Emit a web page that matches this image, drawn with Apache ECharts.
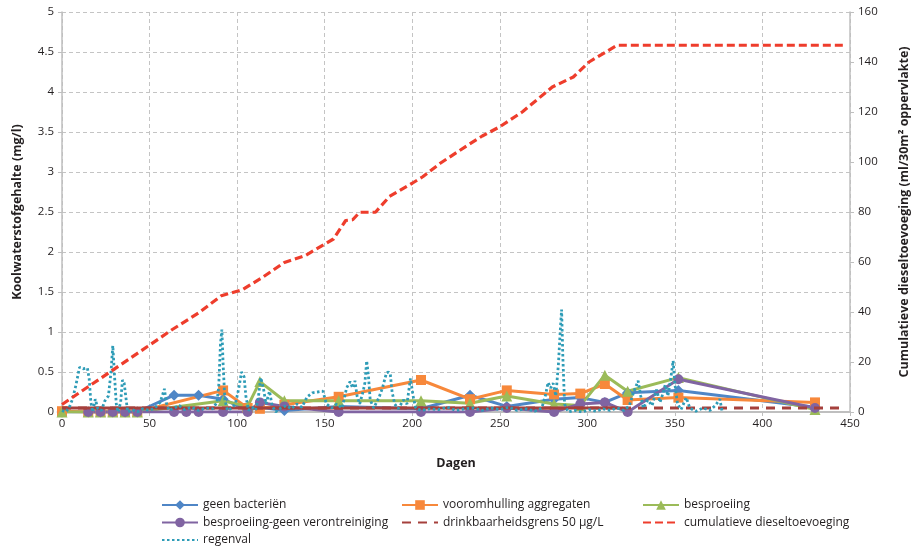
<!DOCTYPE html>
<html>
<head>
<meta charset="utf-8">
<script src="https://cdn.jsdelivr.net/npm/echarts@6/dist/echarts.min.js"></script>
<style>html,body{margin:0;padding:0;background:#fff}#c{width:924px;height:549px}</style>
</head>
<body>
<div id="c"></div>
<script>
// sampling days (Dagen)
var sampleDays = [0, 15, 22, 29, 36, 43, 64, 71, 78, 92, 106, 113, 127, 158, 205, 233, 254, 281, 296, 310, 323, 352, 430];
var geenBacterien = [0, 0, 0, 0, 0, 0, 0.21, null, 0.21, 0.16, 0.02, 0.06, 0.02, 0.07, 0.04, 0.21, 0.07, 0.16, 0.18, 0.12, 0.24, 0.27, 0.06];
var vooromhulling = [0.01, 0, 0, 0, 0, 0, null, null, null, 0.27, 0.05, 0.04, 0.09, 0.19, 0.40, 0.16, 0.27, 0.22, 0.23, 0.35, 0.15, 0.18, 0.12];
var besproeiing = [0, 0, 0, 0, 0, 0, null, null, null, 0.14, 0.07, 0.38, 0.14, 0.14, 0.14, 0.11, 0.20, 0.10, 0.08, 0.46, 0.26, 0.43, 0.03];
var besproeiingGeen = [null, 0, 0, 0, 0, 0, 0, 0, 0, 0, 0, 0.12, 0.07, 0, 0, 0, 0.05, 0, 0.10, 0.12, 0, 0.41, 0.05];

// drinking water limit 0.05 mg/l
var limitDays = [0, 446];
var limitValues = [0.05, 0.05];
var limitDenseDays = [0, 320];

// cumulative diesel addition (right axis)
var cumDays = [0, 28, 49, 63, 78, 91, 103, 114, 127, 139, 155, 162, 166, 170, 179, 187, 200, 206, 216, 231, 240, 250, 263, 280, 292, 301, 317, 446];
var cumValues = [3, 16.3, 26.3, 33, 39.6, 46.5, 48.9, 53.6, 59.8, 62.6, 69.2, 76.6, 76.9, 79.9, 79.9, 86.2, 91.5, 94.1, 99.5, 106.4, 110.4, 114.1, 120.1, 130, 134, 140, 146.7, 146.7];

// rainfall (regenval)
var rainDays = [0, 2, 4, 6, 8, 10, 12, 14.5, 15.5, 16.5, 17.5, 19, 20.5, 22.5, 24.5, 26.5, 28, 29, 30, 31, 32, 33.5, 34.5, 35.5, 36.5, 37.5, 40, 43, 46, 50, 53, 56, 57.5, 58.5, 59.5, 61, 64, 67, 70, 74, 78, 82, 86, 88.5, 89.5, 90.5, 91.3, 92, 93, 94.5, 97, 99, 101, 102.5, 104, 105, 106.5, 108.5, 110.5, 112, 113.5, 115, 116.5, 118.5, 120, 122, 125, 128, 131, 134, 137, 140, 143, 146, 149, 151, 154, 157, 160, 162.5, 164.5, 166, 167.3, 168.5, 170, 172, 173, 174, 175, 176, 178, 181, 183, 185.3, 186.5, 187.5, 188.5, 190, 192, 195, 197, 199, 200.5, 202, 205, 210, 215, 220, 225, 230, 235, 240, 245, 250, 255, 260, 265, 270, 274, 276, 277.6, 279, 280.5, 282, 283.5, 284.5, 285.3, 286, 287, 289, 293, 297, 301, 305, 309, 313, 317, 321, 324, 326.5, 329, 330.5, 332, 334.5, 337, 339.5, 341.5, 343, 344.5, 346, 347.5, 349, 350, 351.5, 353.5, 356.5, 358.5, 362, 366, 370, 373, 375.7, 377];
var rainValues = [0.02, 0, 0.05, 0.16, 0.34, 0.56, 0.54, 0.55, 0.42, 0.12, 0, 0.16, 0.04, 0.02, 0.14, 0.2, 0.5, 0.83, 0.45, 0.1, 0, 0.12, 0.4, 0.36, 0.18, 0, 0.03, 0, 0.04, 0.02, 0.05, 0.12, 0.22, 0.29, 0.12, 0.02, 0.05, 0.08, 0.03, 0.06, 0.02, 0.05, 0.04, 0.12, 0.32, 0.85, 1.03, 0.6, 0.15, 0.02, 0.05, 0.1, 0.3, 0.5, 0.44, 0.2, 0.02, 0.06, 0.02, 0.16, 0.43, 0.3, 0.1, 0.26, 0.08, 0, 0.05, 0.08, 0.04, 0.1, 0.06, 0.19, 0.24, 0.25, 0.26, 0.1, 0.05, 0.1, 0.05, 0.3, 0.38, 0.3, 0.39, 0.2, 0.1, 0.26, 0.37, 0.64, 0.45, 0.15, 0.05, 0.18, 0.3, 0.49, 0.5, 0.47, 0.25, 0.1, 0.04, 0.15, 0.1, 0.42, 0.2, 0.05, 0.02, 0.04, 0.03, 0.06, 0.02, 0.04, 0.05, 0.02, 0.05, 0.03, 0.06, 0.02, 0.04, 0.01, 0.05, 0.2, 0.37, 0.3, 0.36, 0.2, 0.6, 1.0, 1.28, 0.7, 0.1, 0, 0.02, 0, 0.03, 0.01, 0.04, 0.02, 0.05, 0.02, 0.08, 0.25, 0.39, 0.2, 0.05, 0.15, 0.08, 0.28, 0.12, 0.22, 0.34, 0.2, 0.4, 0.64, 0.35, 0.1, 0.03, 0.18, 0.05, 0.01, 0.05, 0.02, 0.08, 0.16, 0];

var xTicks = {min: 0, max: 450, interval: 50};
var yLeft = {min: 0, max: 5, interval: 0.5};
var yRight = {min: 0, max: 160, interval: 20};

function pairs(xs, ys) { return xs.map(function (x, i) { return [x, ys[i]]; }); }

var FONT = 'Open Sans';
var txt = '#231f20';
var axisGrey = '#bfbfbf';

var chart = echarts.init(document.getElementById('c'), null, {renderer: 'canvas'});

function markerSeries(name, vals, color, symbol, size) {
  return {
    name: name, type: 'line', data: pairs(sampleDays, vals), connectNulls: true,
    symbol: symbol, symbolSize: size, showSymbol: true,
    lineStyle: {color: color, width: 3}, itemStyle: {color: color, borderWidth: 0},
    emphasis: {disabled: true}, z: 3
  };
}

var legendText = {fontFamily: FONT, fontSize: 12, color: txt};
function legendCol(left, names) {
  return {orient: 'vertical', left: left, top: 499, itemGap: 5.5, itemWidth: 36, itemHeight: 12,
    textStyle: legendText, selectedMode: false, padding: 0,
    data: names.map(function (n) {
      var plain = (n === 'regenval' || n === 'cumulatieve dieseltoevoeging' || n.indexOf('drinkbaarheidsgrens') === 0);
      return plain ? {name: n, itemStyle: {opacity: 0}} : {name: n};
    })};
}

var nameStyle = {fontFamily: FONT, fontWeight: 'bold', fontSize: 12.5, color: txt};

chart.setOption({
  animation: false,
  textStyle: {fontFamily: FONT},
  grid: {left: 62, right: 74, top: 12, bottom: 137},
  legend: [
    legendCol(161, ['geen bacteriën', 'besproeiing-geen verontreiniging', 'regenval']),
    legendCol(401, ['vooromhulling aggregaten', 'drinkbaarheidsgrens 50 µg/L']),
    legendCol(642, ['besproeiing', 'cumulatieve dieseltoevoeging'])
  ],
  xAxis: {
    type: 'value', min: xTicks.min, max: xTicks.max, interval: xTicks.interval,
    name: 'Dagen', nameLocation: 'middle', nameGap: 45, nameTextStyle: nameStyle,
    axisLine: {show: true, lineStyle: {color: axisGrey, width: 2}},
    axisTick: {show: true, length: 4, lineStyle: {color: axisGrey}},
    axisLabel: {color: txt, fontSize: 11.5, margin: 6, fontFamily: FONT},
    splitLine: {show: true, lineStyle: {color: '#c4c4c4', type: [4, 3], width: 1}}
  },
  yAxis: [{
    type: 'value', min: yLeft.min, max: yLeft.max, interval: yLeft.interval, position: 'left',
    name: 'Koolwaterstofgehalte (mg/l)', nameLocation: 'middle', nameGap: 38, nameTextStyle: nameStyle,
    axisLine: {show: true, lineStyle: {color: axisGrey, width: 1.5}},
    axisTick: {show: true, length: 4, lineStyle: {color: axisGrey}},
    axisLabel: {color: txt, fontSize: 11.5, margin: 8, fontFamily: FONT},
    splitLine: {show: true, lineStyle: {color: '#c4c4c4', type: [4, 3], width: 1}}
  }, {
    type: 'value', min: yRight.min, max: yRight.max, interval: yRight.interval, position: 'right',
    name: 'Cumulatieve dieseltoevoeging (ml/30m² oppervlakte)', nameLocation: 'middle', nameGap: 48, nameRotate: 90,
    nameTextStyle: nameStyle,
    axisLine: {show: true, lineStyle: {color: axisGrey, width: 1.5}},
    axisTick: {show: true, length: 4, lineStyle: {color: axisGrey}},
    axisLabel: {color: txt, fontSize: 11.5, margin: 8, fontFamily: FONT},
    splitLine: {show: false}
  }],
  series: [
    markerSeries('geen bacteriën', geenBacterien, '#4f86c6', 'diamond', 11),
    markerSeries('vooromhulling aggregaten', vooromhulling, '#f7883b', 'rect', 10),
    markerSeries('besproeiing', besproeiing, '#9bbb59', 'triangle', 11),
    markerSeries('besproeiing-geen verontreiniging', besproeiingGeen, '#8064a2', 'circle', 10),
    {
      name: 'drinkbaarheidsgrens 50 µg/L', type: 'line', data: pairs(limitDays, limitValues),
      symbol: 'none', lineStyle: {color: '#a5403c', width: 3, type: [9, 7]}, itemStyle: {color: '#a5403c'}, z: 4
    },
    {
      name: 'drinkbaarheidsgrens 50 µg/L', type: 'line', data: pairs(limitDenseDays, [limitValues[0], limitValues[1]]),
      symbol: 'none', lineStyle: {color: '#a5403c', width: 3}, itemStyle: {color: '#a5403c'}, z: 4
    },
    {
      name: 'regenval', type: 'line', data: pairs(rainDays, rainValues),
      symbol: 'none', lineStyle: {color: '#2e9cb7', width: 2.8, type: [2.5, 2.5], cap: 'butt'}, itemStyle: {color: '#2e9cb7'}, z: 5
    },
    {
      name: 'cumulatieve dieseltoevoeging', type: 'line', yAxisIndex: 1, data: pairs(cumDays, cumValues),
      symbol: 'none', lineStyle: {color: '#ee3d2c', width: 3.2, type: [8, 4]}, itemStyle: {color: '#ee3d2c'}, z: 6
    }
  ]
});
</script>
</body>
</html>
